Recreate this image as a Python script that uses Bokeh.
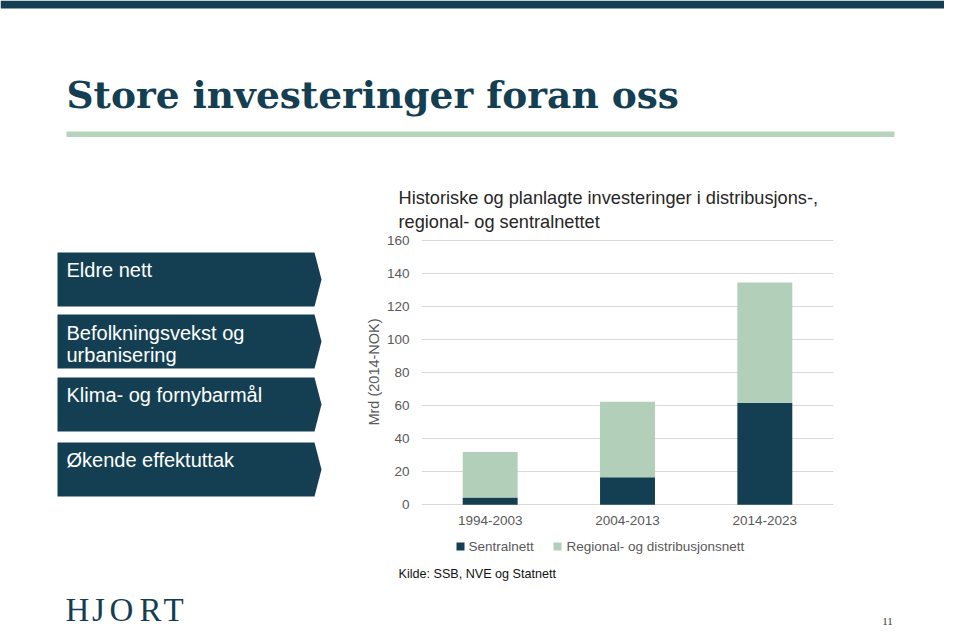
from bokeh.plotting import figure
from bokeh.layouts import column, row
from bokeh.models import (ColumnDataSource, FactorRange, Range1d, FixedTicker, Label)
from bokeh.embed import file_html
from bokeh.resources import INLINE

# ---------------- data ----------------
periods = ["1994-2003", "2004-2013", "2014-2023"]
sentralnett = [4.5, 16.7, 61.7]
regional = [27.5, 45.6, 72.7]
series_names = ["Sentralnett", "Regional- og distribusjonsnett"]
y_ticks = [0, 20, 40, 60, 80, 100, 120, 140, 160]
drivers = [["Eldre nett"], ["Befolkningsvekst og", "urbanisering"],
           ["Klima- og fornybarmål"], ["Økende effektuttak"]]
slide_title = "Store investeringer foran oss"
chart_title = ["Historiske og planlagte investeringer i distribusjons-,",
               "regional- og sentralnettet"]
source_note = "Kilde: SSB, NVE og Statnett"
y_label = "Mrd (2014-NOK)"
logo = "HJORT"
page_no = "11"

DARK = "#143f52"
LIGHT = "#b2cfb9"
LINE_GREEN = "#b5d3bd"
GREY = "#595959"

# vertical offset of the rendered baseline per font (fraction of font size)
BASE_SHIFT = {"DejaVu Serif": 0.44, "Liberation Sans": 0.36, "Liberation Serif": 0.33}


def deco_fig(x0, x1, y0, y1, bt=0, bb=0):
    """A plain figure whose data units are page pixels (y downwards)."""
    f = figure(width=x1 - x0, height=y1 - y0, x_range=Range1d(x0, x1),
               y_range=Range1d(y1 - bb, y0 + bt), x_axis_type=None, y_axis_type=None,
               output_backend="svg", toolbar_location=None, min_border=0,
               min_border_top=bt, min_border_bottom=bb)
    f.outline_line_color = None
    f.background_fill_color = "white"
    f.border_fill_color = "white"
    return f


def lab(f, text, X, Y, size, color, font="Liberation Sans", style="normal",
        align="left"):
    y = Y - BASE_SHIFT[font] * size
    f.add_layout(Label(x=X, y=y, text=text, text_font=font,
                       text_font_size=f"{size}px", text_color=color,
                       text_font_style=style, text_align=align,
                       text_baseline="alphabetic"))


# ---------------- top band ----------------
top = deco_fig(0, 944, 0, 232)
top.quad(left=0, right=944, top=0, bottom=8, color=DARK, line_color=None)
top.quad(left=66, right=894, top=131, bottom=136.5, color=LINE_GREEN, line_color=None)
lab(top, slide_title, 66, 111, 37.5, DARK, font="DejaVu Serif", style="bold")
lab(top, chart_title[0], 398, 204, 18.2, "#262626")
lab(top, chart_title[1], 398, 228, 18.2, "#262626")

# ---------------- middle row: arrows + chart ----------------
ROW_TOP, ROW_BOT = 232, 534
FRAME_TOP, FRAME_BOT = 238, 505
BT, BB = FRAME_TOP - ROW_TOP, ROW_BOT - FRAME_BOT

left = deco_fig(0, 340, ROW_TOP, ROW_BOT, bt=BT, bb=BB)
boxes = [(252, 306), (314, 368), (377, 431), (442, 496)]
xs, ys = [], []
for (t, b) in boxes:
    m = (t + b) / 2
    xs.append([57, 314, 321, 314, 57])
    ys.append([t, t, m, b, b])
left.patches(xs, ys, fill_color=DARK, line_color=None)
driver_baselines = [[277], [340, 362], [402], [467]]
for lines, bls in zip(drivers, driver_baselines):
    for t, b in zip(lines, bls):
        lab(left, t, 66, b, 20, "white")

src = ColumnDataSource(dict(periode=periods, sentralnett=sentralnett, regional=regional))
p = figure(width=604, height=ROW_BOT - ROW_TOP,
           x_range=FactorRange(*periods, range_padding=0),
           y_range=Range1d(-0.4, 161), output_backend="svg", toolbar_location=None,
           min_border_left=81, min_border_right=111, min_border_top=BT,
           min_border_bottom=BB)
p.outline_line_color = None
p.background_fill_color = "white"
p.border_fill_color = "white"

p.yaxis.ticker = FixedTicker(ticks=y_ticks)
for ax in (p.xaxis[0], p.yaxis[0]):
    ax.axis_line_color = None
    ax.major_tick_line_color = None
    ax.minor_tick_line_color = None
    ax.major_tick_in = 0
    ax.major_tick_out = 0
    ax.major_label_text_font = "Liberation Sans"
    ax.major_label_text_font_size = "13.5px"
    ax.major_label_text_color = GREY
p.yaxis.major_label_standoff = 12
p.xaxis.major_label_standoff = 10
p.yaxis.axis_label = y_label
p.yaxis.axis_label_text_font = "Liberation Sans"
p.yaxis.axis_label_text_font_size = "14.5px"
p.yaxis.axis_label_text_font_style = "normal"
p.yaxis.axis_label_text_color = GREY
p.yaxis.axis_label_standoff = 2

p.xgrid.grid_line_color = None
p.ygrid.grid_line_color = "#d9d9d9"
p.ygrid.grid_line_width = 1

p.vbar_stack(["sentralnett", "regional"], x="periode", width=0.4,
             color=[DARK, LIGHT], line_color=None, source=src)

# ---------------- bottom band (legend, source, logo) ----------------
bottom = deco_fig(0, 944, ROW_BOT, 628)
key_left = [456, 553]
key_text_x = [468, 566]
for name, kx, tx, col in zip(series_names, key_left, key_text_x, [DARK, LIGHT]):
    bottom.quad(left=kx, right=kx + 8, top=542, bottom=550, color=col, line_color=None)
    lab(bottom, name, tx, 551, 13.5, GREY)

lab(bottom, source_note, 398, 578, 12.6, "#111111")
logo_x = [77, 98, 121, 150, 173]
for ch, cx in zip(logo, logo_x):
    lab(bottom, ch, cx, 620.5, 33, DARK, font="Liberation Serif", align="center")
lab(bottom, page_no, 887, 625, 11, "#333333", font="Liberation Serif", align="center")

page = column(top, row(left, p), bottom)
open("out.html", "w").write(file_html(page, INLINE))
